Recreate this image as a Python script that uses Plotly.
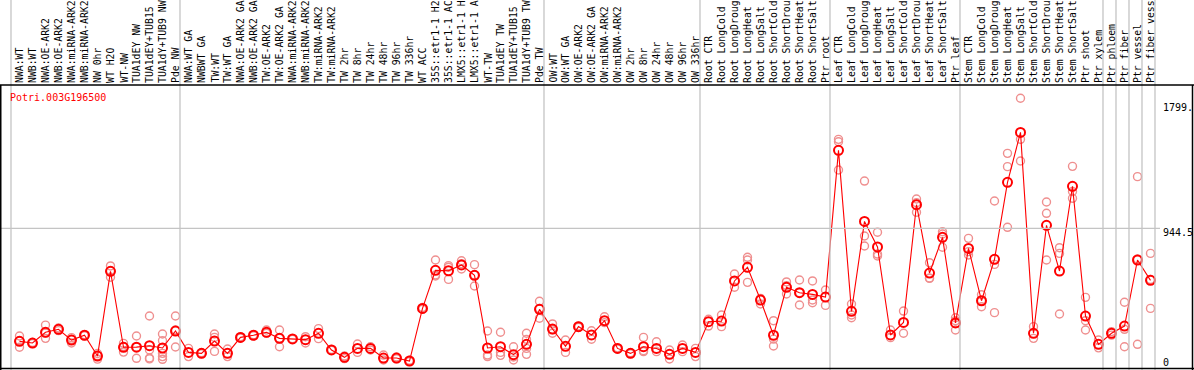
import plotly.graph_objects as go

W, H = 1194, 370

gene = "Potri.003G196500"

labels = [
    "NWA:WT", "NWB:WT", "NWA:OE-ARK2", "NWB:OE-ARK2", "NWA:miRNA-ARK2", "NWB:miRNA-ARK2",
    "NW 0hr", "WT H2O", "WT-NW", "TUA1dEY NW", "TUA1dEY+TUB15", "TUA1dY+TUB9 NW", "Pde NW",
    "NWA:WT GA", "NWBWT GA", "TW:WT", "TW:WT GA", "NWA:OE-ARK2 GA", "NWB:OE-ARK2 GA",
    "TW:OE-ARK2", "TW:OE-ARK2 GA", "NWA:miRNA-ARK2", "NWB:miRNA-ARK2", "TW:miRNA-ARK2",
    "TW:miRNA-ARK2", "TW 2hr", "TW 8hr", "TW 24hr", "TW 48hr", "TW 96hr", "TW 336hr",
    "WT ACC", "35S::etr1-1 H2", "35S::etr1-1 AC", "LMX5::etr1-1 H", "LMX5::etr1-1 A",
    "WT-TW", "TUA1dEY TW", "TUA1dEY+TUB15", "TUA1dY+TUB9 TW", "Pde TW",
    "OW:WT", "OW:WT GA", "OW:OE-ARK2", "OW:OE-ARK2 GA", "OW:miRNA-ARK2", "OW:miRNA-ARK2",
    "OW 2hr", "OW 8hr", "OW 24hr", "OW 48hr", "OW 96hr", "OW 336hr",
    "Root CTR", "Root LongCold", "Root LongDroug", "Root LongHeat", "Root LongSalt",
    "Root ShortCold", "Root ShortDrou", "Root ShortHeat", "Root ShortSalt", "Ptr root",
    "Leaf CTR", "Leaf LongCold", "Leaf LongDroug", "Leaf LongHeat", "Leaf LongSalt",
    "Leaf ShortCold", "Leaf ShortDrou", "Leaf ShortHeat", "Leaf ShortSalt", "Ptr leaf",
    "Stem CTR", "Stem LongCold", "Stem LongDroug", "Stem LongHeat", "Stem LongSalt",
    "Stem ShortCold", "Stem ShortDrou", "Stem ShortHeat", "Stem ShortSalt", "Ptr shoot",
    "Ptr xylem", "Ptr phloem", "Ptr fiber", "Ptr vessel", "Ptr fiber vess",
]

# number of categories in each group (separated by grey vertical lines)
group_sizes = [13, 28, 12, 10, 10, 11, 1, 1, 1, 1]

means = [
    146, 134, 210, 231, 155, 189, 42, 641, 104, 105, 115, 99, 219,
    68, 61, 148, 61, 174, 189, 210, 167, 163, 158, 203, 85, 33, 96, 96, 28, 28, 7,
    379, 648, 645, 686, 613, 99, 108, 52, 125, 372,
    233, 111, 250, 191, 292, 96, 61, 108, 96, 54, 96, 68,
    285, 289, 573, 669, 438, 189, 528, 490, 478, 459,
    1496, 358, 994, 813, 191, 280, 1112, 629, 881, 276,
    803, 433, 726, 1270, 1623, 203, 966, 643, 1242, 325, 125,
    203, 254, 721, 577,
]

replicates = [
    [184, 150, 104], [138, 130], [261, 167, 205], [240, 222], [172, 134, 160], [193, 185],
    [60, 20, 45], [679, 599, 645], [132, 70, 110], [184, 26, 105], [325, 28, 22, 85],
    [198, 151, 61, 38, 19], [325, 106, 226],
    [96, 38], [65, 58], [198, 174, 75], [92, 38], [179, 170], [193, 185], [226, 203],
    [226, 108, 167], [165, 160], [179, 134], [236, 165], [88, 82], [42, 24], [127, 68],
    [108, 85], [49, 14], [35, 22], [12, 3],
    [385, 372], [721, 608, 615], [681, 584, 670], [716, 657, 695], [688, 537, 615],
    [219, 49, 38], [210, 68, 47], [108, 14, 35], [203, 160, 96, 54], [429, 309, 378],
    [269, 203, 228], [155, 68], [255, 245], [221, 161], [320, 278], [100, 92], [65, 58],
    [174, 73, 80], [143, 73], [85, 21], [120, 73], [96, 38],
    [302, 254], [332, 250], [622, 528], [740, 721, 563], [450, 410], [292, 113, 162],
    [566, 481, 540], [580, 403, 490], [573, 419, 438], [509, 400],
    [1574, 1357, 1557], [410, 313, 332], [1279, 891, 820], [917, 763, 749], [226, 172],
    [360, 203], [1152, 1126, 1058], [702, 591, 594], [921, 811, 905], [313, 226, 292],
    [874, 756, 780], [391, 475, 433], [1138, 690, 349], [1475, 1381, 952],
    [1864, 1574, 1421], [250, 167], [1131, 1051, 721], [808, 768, 339],
    [1383, 1205, 1157], [457, 226, 292], [155, 100],
    [215, 190], [422, 231, 108], [1310, 125, 728], [768, 379, 584],
]

ytick_vals = [1799, 944.5, 0]
ytick_text = ["1799.", "944.5", "0"]
grid_value = 944.5

# ---------------- layout geometry (pixels) ----------------
X0, DX = 19.5, 13.0          # pixel of first category centre, spacing
Y0, SY = 362.0, 0.14147      # pixel of value 0, pixels per unit
x_range = [(0 - X0) / DX, (W - X0) / DX]
y_range = [(Y0 - H) / SY, Y0 / SY]

def py(y):
    return 1 - y / H

def px(x):
    return x / W

xs = list(range(len(labels)))
rx, ry = [], []
for i, reps in enumerate(replicates):
    for v in reps:
        rx.append(i)
        ry.append(v)

fig = go.Figure()
fig.add_trace(go.Scatter(
    x=rx, y=ry, mode="markers", hoverinfo="skip",
    marker=dict(symbol="circle-open", size=8, color="#ef8f8f", line=dict(width=1.4)),
))
fig.add_trace(go.Scatter(
    x=xs, y=means, mode="lines+markers",
    line=dict(color="#ff0000", width=1.1),
    marker=dict(symbol="circle-open", size=9, color="#ff0000", line=dict(width=2)),
))

shapes = []
grey = "#c4c4c4"
shapes.append(dict(type="line", xref="paper", yref="y", x0=0, x1=px(1160),
                   y0=grid_value, y1=grid_value, line=dict(color=grey, width=1.3)))
b = 0
bounds = [0]
for g in group_sizes:
    b += g
    bounds.append(b)
for k in bounds:
    xb = (11 + DX * k - X0) / DX
    shapes.append(dict(type="line", xref="x", yref="paper", x0=xb, x1=xb, y0=0, y1=1,
                       line=dict(color=grey, width=1.3)))
blk = dict(color="black", width=1.5)
shapes.append(dict(type="line", xref="paper", yref="paper", x0=0, x1=1, y0=py(85), y1=py(85), line=blk))
shapes.append(dict(type="line", xref="paper", yref="paper", x0=px(0.75), x1=px(0.75), y0=py(85), y1=0, line=blk))
shapes.append(dict(type="line", xref="paper", yref="paper", x0=px(1192.5), x1=px(1192.5), y0=py(85), y1=0, line=blk))
shapes.append(dict(type="line", xref="paper", yref="paper", x0=0, x1=1, y0=py(368.5), y1=py(368.5), line=blk))

ann = []
font = dict(family="DejaVu Sans Mono", size=9.8, color="black")
for i, lab in enumerate(labels):
    ann.append(dict(x=i, y=py(84), xref="x", yref="paper", text=lab, textangle=-90,
                    showarrow=False, xanchor="center", yanchor="bottom", font=font,
                    borderpad=0))
ann.append(dict(x=px(9), y=py(97), xref="paper", yref="paper", text=gene, showarrow=False,
                xanchor="left", yanchor="middle", borderpad=0,
                font=dict(family="DejaVu Sans Mono", size=10, color="#ff0000")))
for v, t in zip(ytick_vals, ytick_text):
    yc = Y0 - SY * v
    if t == "944.5":
        yc += 4
    ann.append(dict(x=px(1162), y=py(yc), xref="paper", yref="paper", text=t,
                    showarrow=False, xanchor="left", yanchor="middle", borderpad=0,
                    font=dict(family="DejaVu Sans Mono", size=10, color="black")))

fig.update_layout(
    width=W, height=H, margin=dict(l=0, r=0, t=0, b=0),
    paper_bgcolor="white", plot_bgcolor="white", showlegend=False,
    xaxis=dict(range=x_range, visible=False, fixedrange=True),
    yaxis=dict(range=y_range, visible=False, fixedrange=True),
    shapes=shapes, annotations=ann,
)
fig.write_html("out.html", config={"displayModeBar": False},
               post_script="document.body.style.margin='0';document.body.style.overflow='hidden';")
